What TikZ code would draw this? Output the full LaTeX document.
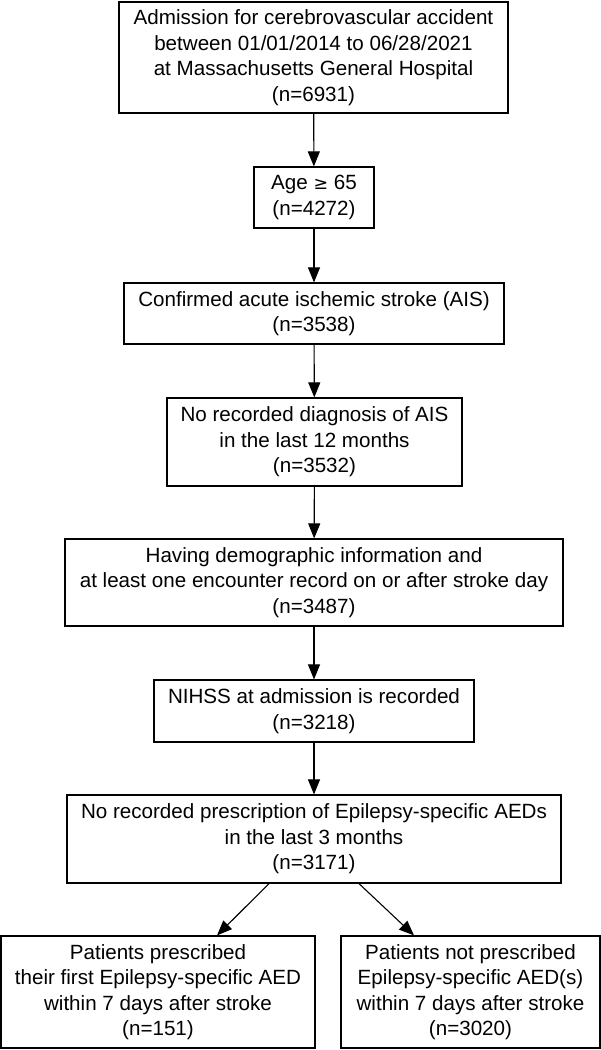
\documentclass[tikz,border=0pt]{standalone}
\usepackage{fontspec}
\setmainfont{Liberation Sans}
\usetikzlibrary{arrows.meta}
\begin{document}
\begin{tikzpicture}[x=1pt,y=-1pt,
  box/.style={draw=black,line width=1.2pt,rectangle,align=center,inner sep=0pt,
    font=\fontsize{20.6}{25.5}\selectfont},
  arr/.style={line width=1.1pt,-{Triangle[length=15pt,width=12pt]}}]
\useasboundingbox (0,0) rectangle (601,1050);
\node[box,minimum width=389pt,minimum height=111pt] (b1) at (313.5,57.5)
  {Admission for cerebrovascular accident\\between 01/01/2014 to 06/28/2021\\at Massachusetts General Hospital\\(n=6931)};
\node[box,minimum width=120pt,minimum height=61pt] (b2) at (314,197.5)
  {Age {\fontspec{DejaVu Sans}\fontsize{17.5}{25.5}\selectfont ≥} 65\\(n=4272)};
\node[box,minimum width=380pt,minimum height=61pt] (b3) at (314,313.5)
  {Confirmed acute ischemic stroke (AIS)\\(n=3538)};
\node[box,minimum width=295pt,minimum height=88pt] (b4) at (314.5,442)
  {No recorded diagnosis of AIS\\in the last 12 months\\(n=3532)};
\node[box,minimum width=498pt,minimum height=87pt] (b5) at (314,582.5)
  {Having demographic information and\\at least one encounter record on or after stroke day\\(n=3487)};
\node[box,minimum width=320pt,minimum height=62pt] (b6) at (314,711)
  {NIHSS at admission is recorded\\(n=3218)};
\node[box,minimum width=494pt,minimum height=88pt] (b7) at (314,839)
  {No recorded prescription of Epilepsy-specific AEDs\\in the last 3 months\\(n=3171)};
\node[box,minimum width=314pt,minimum height=112pt] (b8) at (158,992)
  {Patients prescribed\\their first Epilepsy-specific AED\\within 7 days after stroke\\(n=151)};
\node[box,minimum width=259pt,minimum height=112pt] (b9) at (470.5,992)
  {Patients not prescribed\\Epilepsy-specific AED(s)\\within 7 days after stroke\\(n=3020)};
\draw[arr] (b1) -- (b2);
\draw[arr] (b2) -- (b3);
\draw[arr] (b3) -- (b4);
\draw[arr] (b4) -- (b5);
\draw[arr] (b5) -- (b6);
\draw[arr] (b6) -- (b7);
\coordinate (s1) at ([xshift=-45pt]b7.south);
\coordinate (s2) at ([xshift=45pt]b7.south);
\coordinate (e1) at ([xshift=59pt]b8.north);
\coordinate (e2) at ([xshift=-56.5pt]b9.north);
\draw[arr] (s1) -- (e1);
\draw[arr] (s2) -- (e2);
\end{tikzpicture}
\end{document}
